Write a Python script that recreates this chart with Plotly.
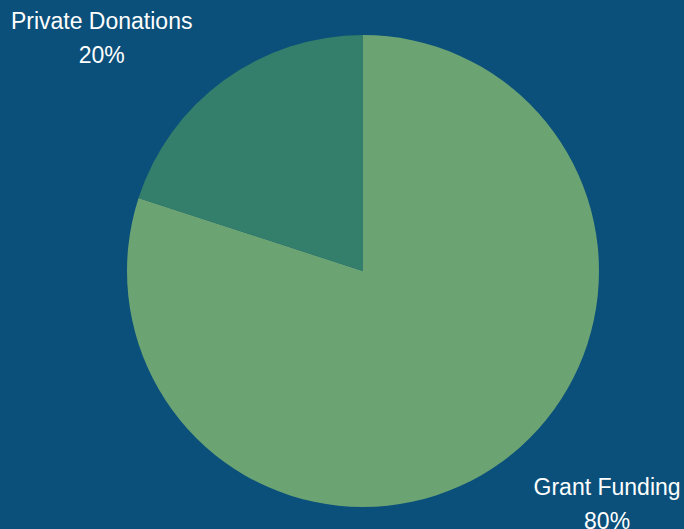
import plotly.graph_objects as go

labels = ["Grant Funding", "Private Donations"]
values = [80, 20]
colors = ["#6ca373", "#347f6b"]

fig = go.Figure(go.Pie(
    labels=labels,
    values=values,
    marker=dict(colors=colors, line=dict(width=0)),
    texttemplate=("<span style='font-size:23px'>\u00a0</span><br>"
                  "<span style='font-size:23px'>%{label}</span><br>"
                  "<span style='font-size:23px'>%{percent}</span><br>"
                  "<span style='font-size:23px'>\u00a0</span>"),
    textposition="outside",
    textfont=dict(family="Liberation Sans, Arial, sans-serif", size=26, color="white"),
    showlegend=False,
    sort=False,
    automargin=False,
))
fig.update_layout(
    width=684, height=529,
    paper_bgcolor="#0b507a",
    plot_bgcolor="#0b507a",
    margin=dict(l=42, r=0, t=35, b=22),
)
fig.write_html("out.html")
